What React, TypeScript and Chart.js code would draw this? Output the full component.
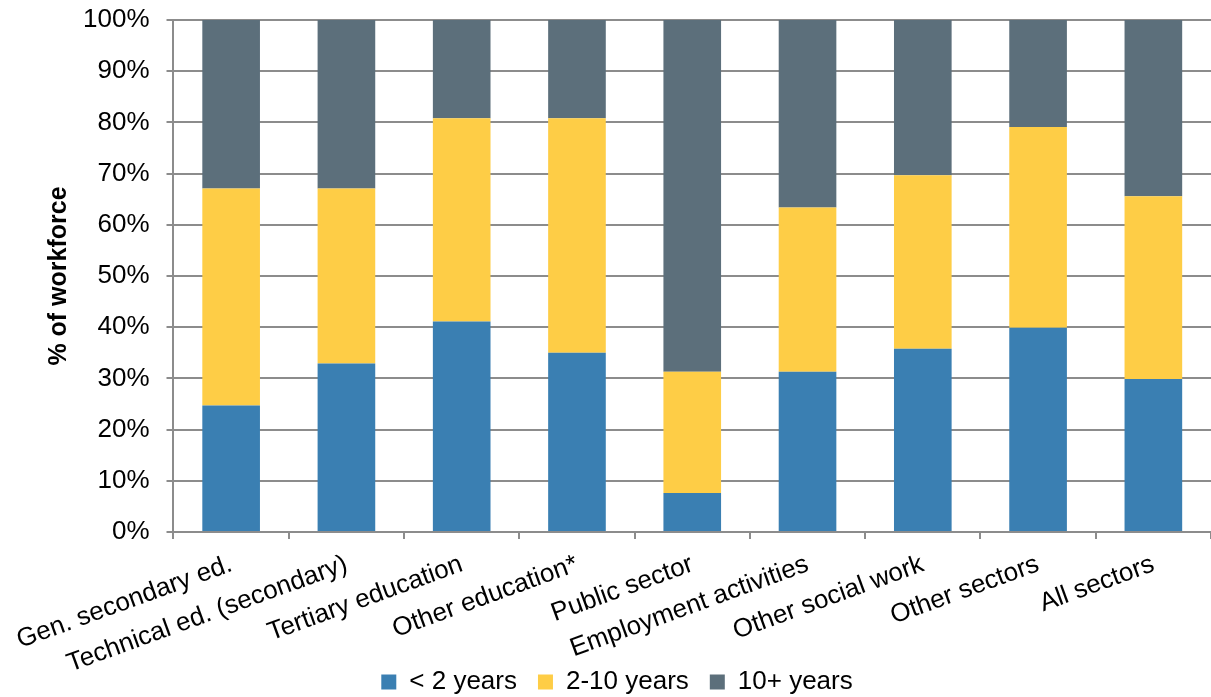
import React, { useEffect, useRef } from "react";
import { Chart, registerables } from "chart.js";

Chart.register(...registerables);

const categories = [
  "Gen. secondary ed.",
  "Technical ed. (secondary)",
  "Tertiary education",
  "Other education*",
  "Public sector",
  "Employment activities",
  "Other social work",
  "Other sectors",
  "All sectors",
];
const under2 = [24.7, 32.9, 41.1, 35.0, 7.6, 31.3, 35.8, 39.9, 29.9];
const twoTo10 = [42.4, 34.2, 39.7, 45.8, 23.7, 32.1, 33.9, 39.2, 35.7];
const tenPlus = [32.9, 32.9, 19.2, 19.2, 68.7, 36.6, 30.3, 20.9, 34.4];
const seriesNames = ["< 2 years", "2-10 years", "10+ years"];
const seriesColors = ["#3A7FB2", "#FECD46", "#5C6F7B"];
const yTicks = [0, 10, 20, 30, 40, 50, 60, 70, 80, 90, 100];

const FONT = "'Liberation Sans', Arial, sans-serif";
const GRID = "#8c8c8c";

export default function App() {
  const ref = useRef<HTMLCanvasElement>(null);
  useEffect(() => {
    if (!ref.current) return;
    const chart = new Chart(ref.current, {
      type: "bar",
      data: {
        labels: categories,
        datasets: [under2, twoTo10, tenPlus].map((d, i) => ({
          label: seriesNames[i],
          data: d,
          backgroundColor: seriesColors[i],
          borderWidth: 0,
          barPercentage: 0.5,
          categoryPercentage: 1,
        })),
      },
      options: {
        animation: false,
        responsive: false,
        maintainAspectRatio: false,
        layout: { padding: { top: 20, right: 0, left: 23, bottom: -8 } },
        plugins: {
          legend: {
            position: "bottom",
            labels: {
              font: { family: FONT, size: 26 },
              color: "#000",
              boxWidth: 15,
              boxHeight: 15,
              padding: 21,
            },
          },
          tooltip: { enabled: false },
        },
        scales: {
          x: {
            stacked: true,
            afterFit: (scale: any) => {
              scale.paddingLeft = 0;
              scale.paddingRight = 0;
              scale.height = 116;
              scale._computeLabelArea = () => undefined;
            },
            grid: {
              drawOnChartArea: false,
              drawTicks: true,
              tickLength: 7,
              offset: true,
              color: GRID,
              lineWidth: 2,
            },
            border: { color: GRID, width: 2 },
            ticks: {
              font: { family: FONT, size: 26 },
              color: "#000",
              minRotation: 20,
              maxRotation: 20,
              autoSkip: false,
              padding: 10,
            },
          },
          y: {
            stacked: true,
            min: 0,
            max: 100,
            afterBuildTicks: (axis: any) => {
              axis.ticks = yTicks.map((v) => ({ value: v }));
            },
            afterFit: (scale: any) => {
              scale.paddingTop = 0;
              scale.paddingBottom = 0;
            },
            grid: {
              color: GRID,
              lineWidth: 2,
              drawTicks: true,
              tickLength: 7,
            },
            border: { color: GRID, width: 2 },
            ticks: {
              font: { family: FONT, size: 26 },
              color: "#000",
              padding: 17,
              callback: (v: any) => v + "%",
            },
            title: {
              display: true,
              text: "% of workforce",
              font: { family: FONT, size: 25, weight: "bold", lineHeight: 1 },
              color: "#000",
              padding: { top: 24, bottom: -6 },
            },
          },
        },
      },
    });
    return () => chart.destroy();
  }, []);
  return (
    <div style={{ position: "absolute", left: 0, top: 0, width: 1211, height: 697, background: "#fff" }}>
      <canvas ref={ref} width={1211} height={697} style={{ display: "block" }} />
    </div>
  );
}
